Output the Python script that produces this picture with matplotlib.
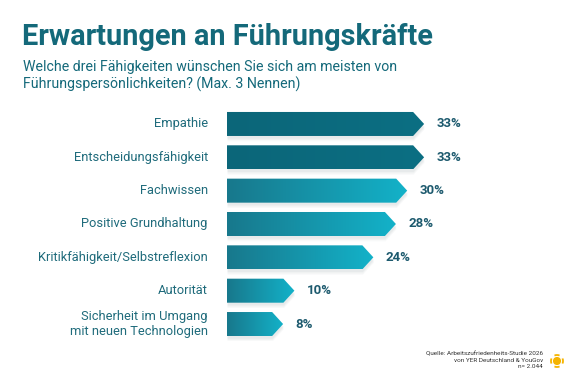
import numpy as np
import matplotlib.pyplot as plt
from matplotlib.patches import Polygon, Circle, Arc
from matplotlib.colors import LinearSegmentedColormap

plt.rcParams['font.family'] = ['Roboto', 'DejaVu Sans']

# Data
categories = ["Empathie", "Entscheidungsfähigkeit", "Fachwissen",
              "Positive Grundhaltung", "Kritikfähigkeit/Selbstreflexion",
              "Autorität", "Sicherheit im Umgang\nmit neuen Technologien"]
values = [33, 33, 30, 28, 24, 10, 8]
dark = [True, True, False, False, False, False, False]

TEAL = "#14697a"
LABEL = "#1f6b7b"
VALUE = "#1d5a6e"

fig = plt.figure(figsize=(5.8, 3.87), dpi=100)
fig.patch.set_facecolor("white")

# axes placed so that 1 unit = 5.64 px, bar spacing = 33.4 px
ax = fig.add_axes([227 / 580, (387 - 340.7) / 387, 225.6 / 580, 233.4 / 387])
ax.set_xlim(0, 40)
ax.set_ylim(len(values) - 0.5, -0.5)
ax.axis("off")

bar_h = 0.72
tip = 1.95
cmap_dark = LinearSegmentedColormap.from_list("d", ["#0b6679", "#0c6f83"])
cmap_light = LinearSegmentedColormap.from_list("l", ["#18788c", "#13b2c9"])
grad = np.linspace(0, 1, 256).reshape(1, -1)

for i, (v, d) in enumerate(zip(values, dark)):
    top, bot = i - bar_h / 2, i + bar_h / 2
    pts = [(0, top), (v, top), (v + tip, i), (v, bot), (0, bot)]
    # soft shadow
    for k, a in [(0.16, 0.05), (0.12, 0.06), (0.08, 0.07)]:
        sh = Polygon([(x + 0.1, y + k) for x, y in pts], closed=True,
                     facecolor="#7a8a90", edgecolor="none", alpha=a, zorder=1)
        ax.add_patch(sh)
    poly = Polygon(pts, closed=True, facecolor="none", edgecolor="none", zorder=2)
    ax.add_patch(poly)
    im = ax.imshow(grad, aspect="auto", cmap=cmap_dark if d else cmap_light,
                   extent=(0, v + tip, bot, top), zorder=2)
    im.set_clip_path(poly)
    ax.text(v + tip + 2.2, i, f"{v}%", ha="left", va="center",
            fontsize=9.5, fontweight="bold", color=VALUE, zorder=3)
    ax.text(-3.4, i, categories[i], ha="right", va="center", fontsize=9.3,
            color=LABEL, multialignment="right", linespacing=1.2)

ax.set_xlim(0, 40)
ax.set_ylim(len(values) - 0.5, -0.5)

# Titles
fig.text(22 / 580, 1 - 45 / 387, "Erwartungen an Führungskräfte", fontsize=20.8,
         fontweight="bold", color=TEAL, ha="left", va="baseline")
fig.text(23 / 580, 1 - 71 / 387, "Welche drei Fähigkeiten wünschen Sie sich am meisten von",
         fontsize=10.2, color=TEAL, ha="left", va="baseline")
fig.text(23 / 580, 1 - 89 / 387, "Führungspersönlichkeiten? (Max. 3 Nennen)",
         fontsize=10.2, color=TEAL, ha="left", va="baseline")

# Source
fig.text(543 / 580, 1 - 360 / 387,
         "Quelle: Arbeitszufriedenheits-Studie 2026\nvon YER Deutschland & YouGov\nn= 2.044",
         fontsize=4.6, color="#333333", ha="right", va="center", linespacing=1.3)

# little sun logo
lax = fig.add_axes([549 / 580, 1 - 369 / 387, 16 / 580, 16 / 387])
lax.set_xlim(-1, 1)
lax.set_ylim(-1, 1)
lax.set_aspect("equal")
lax.axis("off")
lax.add_patch(Circle((0, 0), 0.42, color="#f5b400"))
for ang in [0, 90, 180, 270]:
    lax.add_patch(Arc((0, 0), 1.5, 1.5, theta1=ang - 25, theta2=ang + 25,
                      color="#f5b400", lw=1.3))

fig.savefig("out.png", dpi=100, facecolor="white")
